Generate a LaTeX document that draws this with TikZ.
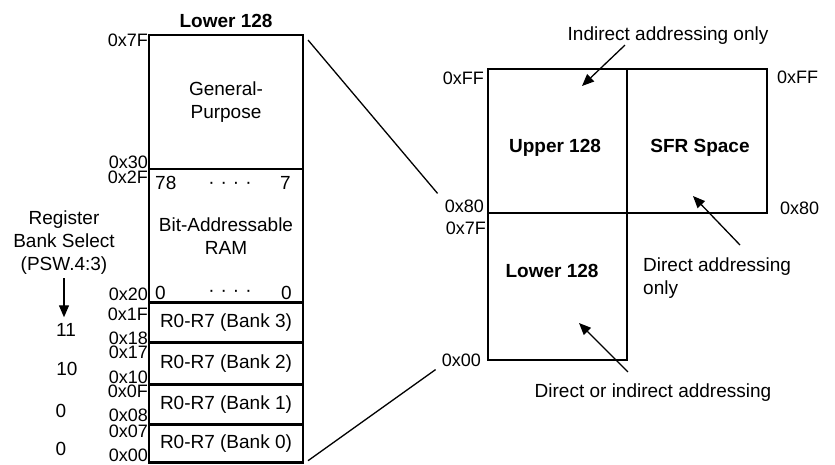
\documentclass[tikz,border=0pt]{standalone}
\usepackage{fontspec}
\setmainfont{Liberation Sans}
\usetikzlibrary{positioning,arrows.meta}

\begin{document}
\begin{tikzpicture}[
    x=1pt, y=-1pt,
    font=\fontsize{19}{23}\selectfont,
    cell/.style={rectangle, draw, line width=2.6pt, outer sep=0pt, minimum width=154pt, inner sep=2pt, align=center},
    area/.style={rectangle, draw, line width=2.6pt, outer sep=0pt},
    tag/.style={inner sep=0pt},
    addr/.style={inner sep=0pt, font=\fontsize{18}{22}\selectfont},
    title/.style={inner sep=0pt, font=\fontsize{19}{23}\selectfont\bfseries},
    link/.style={line width=1.3pt},
    arrow/.style={-{Triangle[length=12pt,width=10pt]}, line width=1.3pt}
]
    \useasboundingbox (0,0) rectangle (835,464);

    % Lower 128 column
    \node[cell, minimum height=134pt] (gp) at (226,102) {General-\\Purpose};
    \node[cell, minimum height=133.7pt, below=0pt of gp] (bit) {Bit-Addressable\\RAM};
    \node[cell, minimum height=40pt, below=0pt of bit] (bank3) {R0-R7 (Bank 3)};
    \node[cell, minimum height=42pt, below=0pt of bank3] (bank2) {R0-R7 (Bank 2)};
    \node[cell, minimum height=40pt, below=0pt of bank2] (bank1) {R0-R7 (Bank 1)};
    \node[cell, minimum height=38pt, below=0pt of bank1] (bank0) {R0-R7 (Bank 0)};
    \node[title, above=7pt of gp] (head) {Lower 128};

    % Bit numbers
    \node[tag, anchor=west] (hi78) at ([shift={(6,14)}]bit.north west) {78};
    \node[tag] (hidots) at ([shift={(4,16)}]bit.north) {·\hspace{6pt}·\hspace{6pt}·\hspace{6pt}·};
    \node[tag, anchor=east] (hi7) at ([shift={(-12,14)}]bit.north east) {7};
    \node[tag, anchor=west] (lo0) at ([shift={(6,-10)}]bit.south west) {0};
    \node[tag] (lodots) at ([shift={(4,-9)}]bit.south) {·\hspace{6pt}·\hspace{6pt}·\hspace{6pt}·};
    \node[tag, anchor=east] (lo0r) at ([shift={(-11,-10)}]bit.south east) {0};

    % Addresses
    \node[addr, anchor=east] (a7f) at (148,40) {0x7F};
    \node[addr, anchor=east] (a30) at (148,162.5) {0x30};
    \node[addr, anchor=east] (a2f) at (148,177) {0x2F};
    \node[addr, anchor=east] (a20) at (148,294.5) {0x20};
    \node[addr, anchor=east] (a1f) at (148,314) {0x1F};
    \node[addr, anchor=east] (a18) at (148,338) {0x18};
    \node[addr, anchor=east] (a17) at (148,352.5) {0x17};
    \node[addr, anchor=east] (a10) at (148,377.5) {0x10};
    \node[addr, anchor=east] (a0f) at (148,391.5) {0x0F};
    \node[addr, anchor=east] (a08) at (148,415.5) {0x08};
    \node[addr, anchor=east] (a07) at (148,431) {0x07};
    \node[addr, anchor=east] (a00) at (148,455) {0x00};

    % Register bank select
    \node[tag, align=center] (rbs) at (64,243) {Register\\Bank Select\\(PSW.4:3)};
    \node[tag] (sel11) at (66,330) {11};
    \node[tag] (sel10) at (67,369) {10};
    \node[tag] (sel01) at (61,411) {0};
    \node[tag] (sel00) at (61,449) {0};
    \draw[arrow, shorten <=3pt, shorten >=6pt] (rbs.south) -- (rbs.south |- sel11.north);

    % Internal data memory map
    \node[area, minimum width=139pt, minimum height=144pt] (upper) at (557.5,141) {};
    \node[area, minimum width=140pt, minimum height=144pt, right=0pt of upper] (sfr) {};
    \node[area, minimum width=139pt, minimum height=147pt, below=0pt of upper] (lower) {};
    \node[title] (uptext) at (555,148) {Upper 128};
    \node[title] (sfrtext) at (700,148) {SFR Space};
    \node[title] (lowtext) at (552,271) {Lower 128};

    \node[addr, anchor=east] (uff) at (484,78) {0xFF};
    \node[addr, anchor=west] (sff) at (777,77) {0xFF};
    \node[addr, anchor=east] (u80) at (484,206) {0x80};
    \node[addr, anchor=west] (s80) at (780,208) {0x80};
    \node[addr, anchor=east] (l7f) at (486,228) {0x7F};
    \node[addr, anchor=east] (l00) at (481,360) {0x00};

    % Zoom lines
    \draw[link] ([shift={(5,5)}]gp.north east) -- ([shift={(-7,-6)}]u80.north west);
    \draw[link] ([shift={(5,-2)}]bank0.south east) -- ([shift={(-6,3)}]l00.south west);

    % Addressing modes
    \node[tag] (indnote) at (668,36) {Indirect addressing only};
    \node[tag, anchor=north west, align=left] (dirnote) at (643,258) {Direct addressing\\only};
    \node[tag] (bothnote) at (653,393) {Direct or indirect addressing};
    \coordinate (upspot) at (582,86);
    \coordinate (sfrspot) at (693,196);
    \coordinate (lowspot) at (579,323);
    \draw[arrow] ([xshift=-43pt]indnote.south) -- (upspot);
    \draw[arrow] ([shift={(97,-13)}]dirnote.north west) -- (sfrspot);
    \draw[arrow] ([shift={(-25,-12)}]bothnote.north) -- (lowspot);

\end{tikzpicture}
\end{document}
